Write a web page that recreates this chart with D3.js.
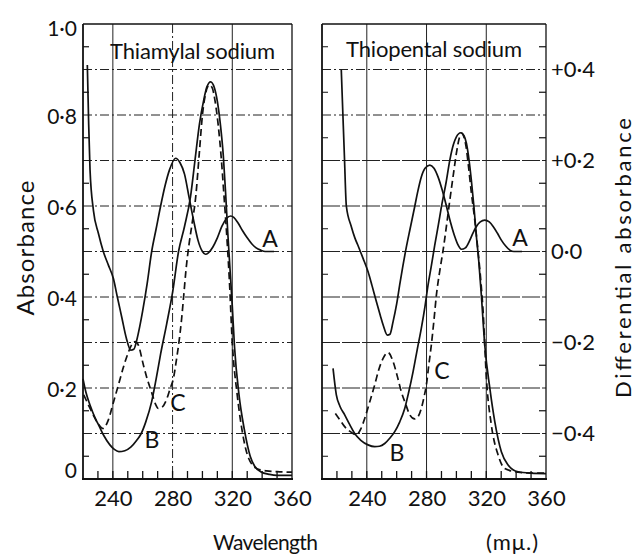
<!DOCTYPE html>
<html>
<head>
<meta charset="utf-8">
<script src="https://cdn.jsdelivr.net/npm/d3@7"></script>
<style>
  body { margin: 0; background: #fff; }
  text { font-family: Lato, "Open Sans", sans-serif; fill: #111; }
</style>
</head>
<body>
<div id="chart"></div>
<script>
// ---- data (wavelength in mμ, absorbance) ----
var thiamylalA_nm  = [222.9, 223.8, 224.7, 227, 230.3, 233.6, 237, 240.4, 243, 246, 249, 252, 254, 256, 258, 260, 263, 266, 269, 272, 275, 278, 282, 285, 288, 291, 294, 297, 300, 302, 304, 307, 310, 313, 316, 319, 321, 324, 327, 330, 333, 336, 339, 342, 345, 348];
var thiamylalA_abs = [0.91, 0.78, 0.68, 0.59, 0.54, 0.50, 0.47, 0.44, 0.40, 0.355, 0.31, 0.283, 0.285, 0.305, 0.335, 0.37, 0.43, 0.50, 0.55, 0.60, 0.645, 0.68, 0.705, 0.695, 0.67, 0.62, 0.57, 0.525, 0.50, 0.494, 0.497, 0.51, 0.53, 0.555, 0.572, 0.578, 0.575, 0.562, 0.545, 0.53, 0.517, 0.508, 0.503, 0.50, 0.50, 0.50];

var thiamylalB_nm  = [220, 222, 225, 228, 231, 234, 238, 241, 244, 248, 252, 256, 259, 262, 266, 269, 272, 276, 280, 284, 288, 292, 295, 298, 301, 303, 305.5, 308, 310, 312, 314, 315.5, 317, 318.5, 320, 321.5, 324.5, 328, 332, 335, 339, 345, 350, 360];
var thiamylalB_abs = [0.22, 0.19, 0.16, 0.135, 0.115, 0.095, 0.075, 0.065, 0.06, 0.062, 0.07, 0.085, 0.10, 0.125, 0.17, 0.22, 0.275, 0.34, 0.41, 0.50, 0.555, 0.62, 0.70, 0.78, 0.835, 0.862, 0.873, 0.86, 0.83, 0.78, 0.71, 0.63, 0.54, 0.46, 0.38, 0.29, 0.185, 0.11, 0.05, 0.028, 0.016, 0.01, 0.008, 0.008];

var thiamylalC_nm  = [220.5, 224, 227, 230.5, 233.5, 237, 240.5, 244, 247, 250, 253, 255, 257, 260.5, 263, 266, 268.5, 270.5, 273, 276, 278.5, 280.5, 282.5, 284, 286, 287.5, 289, 291, 293, 295.5, 298, 300, 302, 304.5, 306.5, 308.5, 310.5, 312.5, 314.5, 316, 318, 320, 323.3, 326.7, 331, 337, 343, 350, 360];
var thiamylalC_abs = [0.185, 0.16, 0.14, 0.12, 0.111, 0.13, 0.17, 0.21, 0.245, 0.275, 0.297, 0.302, 0.295, 0.25, 0.22, 0.19, 0.165, 0.155, 0.158, 0.175, 0.20, 0.22, 0.26, 0.294, 0.35, 0.404, 0.46, 0.515, 0.56, 0.62, 0.72, 0.80, 0.845, 0.866, 0.86, 0.83, 0.78, 0.71, 0.62, 0.55, 0.44, 0.30, 0.185, 0.104, 0.045, 0.022, 0.018, 0.016, 0.015];

var thiopentalA_nm  = [222.9, 224, 225, 226.3, 229.6, 232, 234.5, 237.5, 240.8, 243.5, 246.4, 249, 251, 253.8, 255.5, 257.6, 260, 262, 264, 266.5, 269, 272.1, 274, 276.5, 279, 282.2, 285, 287.7, 290.5, 293.3, 296, 298.9, 301, 303.3, 306, 309, 311, 313.4, 316, 319, 322, 324.6, 327.5, 330.1, 333, 335.8, 338.5, 341.3, 344];
var thiopentalA_abs = [0.90, 0.80, 0.71, 0.60, 0.555, 0.53, 0.51, 0.485, 0.456, 0.425, 0.39, 0.36, 0.338, 0.316, 0.318, 0.346, 0.385, 0.426, 0.465, 0.51, 0.55, 0.599, 0.63, 0.664, 0.683, 0.69, 0.683, 0.664, 0.635, 0.60, 0.565, 0.533, 0.515, 0.505, 0.508, 0.525, 0.54, 0.555, 0.565, 0.569, 0.565, 0.555, 0.54, 0.525, 0.512, 0.503, 0.5, 0.5, 0.5];

var thiopentalB_nm  = [217.4, 219.6, 222, 225.2, 228.5, 231.9, 236, 240.8, 245.3, 248.5, 252, 255.5, 258.7, 262, 265.4, 268, 271, 273.8, 276.5, 279, 281, 283.3, 285.5, 288, 290, 293, 295.6, 298, 300, 302.9, 305, 306.7, 308.5, 310, 311.7, 313.4, 315, 316.7, 319, 322.4, 325.7, 330.1, 334.6, 341.3, 350, 360];
var thiopentalB_abs = [0.243, 0.185, 0.16, 0.141, 0.12, 0.10, 0.085, 0.075, 0.071, 0.072, 0.078, 0.09, 0.104, 0.125, 0.155, 0.19, 0.236, 0.285, 0.331, 0.38, 0.426, 0.47, 0.514, 0.56, 0.599, 0.65, 0.701, 0.735, 0.752, 0.761, 0.755, 0.738, 0.70, 0.657, 0.60, 0.533, 0.478, 0.404, 0.294, 0.199, 0.126, 0.06, 0.031, 0.016, 0.013, 0.012];

var thiopentalC_nm  = [218.9, 222, 225.2, 229, 233, 236, 238.6, 242, 245.3, 248, 250.9, 254.2, 257.6, 260.5, 263.1, 266, 268.8, 272.1, 274.5, 276.5, 278.3, 279.9, 281.5, 283.2, 285, 286.6, 289, 291.1, 293.5, 295.6, 298, 300, 302, 303.4, 305, 306.5, 308, 310, 312.3, 314.5, 316.5, 317.9, 320.1, 323.4, 327.9, 332.4, 341.3, 350, 360];
var thiopentalC_abs = [0.144, 0.13, 0.115, 0.104, 0.097, 0.11, 0.133, 0.17, 0.207, 0.24, 0.265, 0.278, 0.258, 0.225, 0.192, 0.165, 0.141, 0.132, 0.138, 0.155, 0.18, 0.207, 0.25, 0.294, 0.35, 0.404, 0.46, 0.503, 0.56, 0.613, 0.67, 0.716, 0.75, 0.76, 0.752, 0.73, 0.69, 0.63, 0.569, 0.50, 0.43, 0.368, 0.221, 0.119, 0.053, 0.023, 0.015, 0.013, 0.013];

var xTickLabels = [240, 280, 320, 360];
var absTicks = [0, 0.2, 0.4, 0.6, 0.8, 1.0];
var diffTicks = [-0.4, -0.2, 0, 0.2, 0.4];

var width = 634,
    height = 556,
    plotTop = 24,
    plotBottom = 479;

var xL = d3.scaleLinear().domain([220, 360]).range([83, 292]);
var xR = d3.scaleLinear().domain([210, 360]).range([322, 546]);
var y = d3.scaleLinear().domain([0, 1]).range([plotBottom, plotTop]);
var yDiff = d3.scaleLinear().domain([-0.5, 0.5]).range([plotBottom, plotTop]);

var svg = d3.select("#chart").append("svg")
    .attr("width", width)
    .attr("height", height);

function dot(v) { return d3.format(".1f")(v).replace(".", "\u00b7"); }

function panel(x, title, titleX, titleY, titleLen, curves, letters, isRight) {
    var g = svg.append("g");
    var x0 = x.range()[0], x1 = x.range()[1];

    // horizontal grid every 0.1
    g.selectAll(".hgrid")
        .data(d3.range(1, 10).map(function (i) { return i / 10; }))
        .enter().append("line")
        .attr("x1", x0).attr("x2", x1)
        .attr("y1", function (d) { return y(d); })
        .attr("y2", function (d) { return y(d); })
        .attr("stroke", "#222")
        .attr("stroke-width", 1)
        .attr("stroke-dasharray", function (d) {
            return (isRight && d < 0.75) ? "18,2" : "9,3,2,3";
        });

    // vertical grid
    g.selectAll(".vgrid")
        .data([240, 280, 320])
        .enter().append("line")
        .attr("x1", function (d) { return x(d); })
        .attr("x2", function (d) { return x(d); })
        .attr("y1", plotTop).attr("y2", plotBottom)
        .attr("stroke", "#222")
        .attr("stroke-width", 1)
        .attr("stroke-dasharray", function (d) {
            return (!isRight && d == 280) ? "9,3,2,3" : null;
        });

    // minor ticks on the bottom axis
    g.selectAll(".xminor")
        .data(d3.range(x.domain()[0] + 10, 360, 10))
        .enter().append("line")
        .attr("x1", function (d) { return x(d); })
        .attr("x2", function (d) { return x(d); })
        .attr("y1", plotBottom).attr("y2", plotBottom - 8)
        .attr("stroke", "#111").attr("stroke-width", 1.3);

    // minor ticks on the side axes (0.05, 0.15, ...)
    var ym = d3.range(0, 10).map(function (i) { return i / 10 + 0.05; });
    g.selectAll(".yminorL")
        .data(ym)
        .enter().append("line")
        .attr("x1", x0).attr("x2", x0 + 6)
        .attr("y1", function (d) { return y(d); })
        .attr("y2", function (d) { return y(d); })
        .attr("stroke", "#111").attr("stroke-width", isRight ? 1 : 1.2);
    if (isRight) {
        g.selectAll(".yminorR")
            .data(ym)
            .enter().append("line")
            .attr("x1", x1).attr("x2", x1 - 7)
            .attr("y1", function (d) { return y(d); })
            .attr("y2", function (d) { return y(d); })
            .attr("stroke", "#111").attr("stroke-width", 1.2);
    }

    // frame
    g.append("line").attr("x1", x0).attr("x2", x1).attr("y1", plotTop).attr("y2", plotTop)
        .attr("stroke", "#111").attr("stroke-width", 1.3);
    g.append("line").attr("x1", x1).attr("x2", x1).attr("y1", plotTop).attr("y2", plotBottom)
        .attr("stroke", "#111").attr("stroke-width", 1.3);
    g.append("line").attr("x1", x0).attr("x2", x0).attr("y1", plotTop).attr("y2", plotBottom)
        .attr("stroke", "#111").attr("stroke-width", 1.8);
    g.append("line").attr("x1", x0 - 1).attr("x2", x1 + 1).attr("y1", plotBottom).attr("y2", plotBottom)
        .attr("stroke", "#111").attr("stroke-width", 2.2);

    // title
    g.append("text")
        .attr("x", titleX).attr("y", titleY)
        .attr("font-size", 22)
        .attr("textLength", titleLen)
        .attr("lengthAdjust", "spacing")
        .text(title);

    // x axis labels
    var ax = g.append("g")
        .attr("transform", "translate(0," + plotBottom + ")")
        .call(d3.axisBottom(x).tickValues(xTickLabels).tickSize(0).tickPadding(11)
            .tickFormat(d3.format("d")));
    ax.select(".domain").remove();
    ax.selectAll("text").attr("font-size", 22).attr("font-family", "Lato, sans-serif").attr("fill", "#111");

    // curves
    var line = d3.line()
        .x(function (d) { return x(d[0]); })
        .y(function (d) { return y(d[1]); })
        .curve(d3.curveMonotoneX);

    g.selectAll(".curve")
        .data(curves)
        .enter().append("path")
        .attr("d", function (c) { return line(d3.zip(c.nm, c.abs)); })
        .attr("fill", "none")
        .attr("stroke", "#111")
        .attr("stroke-width", 1.7)
        .attr("stroke-dasharray", function (c) { return c.dashed ? "7,4" : null; });

    g.selectAll(".letter")
        .data(letters)
        .enter().append("text")
        .attr("x", function (d) { return d.x; })
        .attr("y", function (d) { return d.y; })
        .attr("text-anchor", "middle")
        .attr("dominant-baseline", "central")
        .attr("font-size", 23)
        .text(function (d) { return d.t; });

    return g;
}

panel(xL, "Thiamylal sodium", 110, 59, 165, [
    { nm: thiamylalA_nm, abs: thiamylalA_abs },
    { nm: thiamylalB_nm, abs: thiamylalB_abs },
    { nm: thiamylalC_nm, abs: thiamylalC_abs, dashed: true }
], [
    { t: "A", x: 270, y: 238 },
    { t: "B", x: 152, y: 439 },
    { t: "C", x: 178, y: 402 }
], false);

panel(xR, "Thiopental sodium", 346, 57, 176, [
    { nm: thiopentalA_nm, abs: thiopentalA_abs },
    { nm: thiopentalB_nm, abs: thiopentalB_abs },
    { nm: thiopentalC_nm, abs: thiopentalC_abs, dashed: true }
], [
    { t: "A", x: 520, y: 237 },
    { t: "B", x: 397, y: 452 },
    { t: "C", x: 442, y: 370 }
], true);

// left absorbance axis labels
var ayl = svg.append("g")
    .attr("transform", "translate(83,0)")
    .call(d3.axisLeft(y).tickValues(absTicks).tickSize(0).tickPadding(6)
        .tickFormat(function (d) { return d === 0 ? "0" : dot(d); }));
ayl.select(".domain").remove();
ayl.selectAll("text")
    .attr("font-size", 21).attr("font-family", "Lato, sans-serif").attr("fill", "#111")
    .attr("transform", function (d) {
        var off = d === 0 ? -8 : (d === 1 ? 5 : 2);
        return "translate(0," + off + ")";
    });

// right differential axis labels
var ayr = svg.append("g")
    .attr("transform", "translate(546,0)")
    .call(d3.axisRight(yDiff).tickValues(diffTicks).tickSize(0).tickPadding(5)
        .tickFormat(function (d) {
            if (d === 0) return "0\u00b70";
            return (d > 0 ? "+" : "\u2212") + dot(Math.abs(d));
        }));
ayr.select(".domain").remove();
ayr.selectAll("text").attr("font-size", 22).attr("font-family", "Lato, sans-serif").attr("fill", "#111");

// axis titles
svg.append("text")
    .attr("transform", "translate(24,248) rotate(-90)")
    .attr("text-anchor", "middle")
    .attr("dominant-baseline", "central")
    .attr("font-size", 24)
    .attr("textLength", 135)
    .attr("lengthAdjust", "spacing")
    .text("Absorbance");

svg.append("text")
    .attr("transform", "translate(622,258) rotate(-90)")
    .attr("text-anchor", "middle")
    .attr("dominant-baseline", "central")
    .attr("font-size", 22)
    .attr("textLength", 280)
    .attr("lengthAdjust", "spacing")
    .text("Differential absorbance");

svg.append("text")
    .attr("x", 213).attr("y", 550)
    .attr("font-size", 21)
    .attr("textLength", 105)
    .attr("lengthAdjust", "spacing")
    .text("Wavelength");

svg.append("text")
    .attr("x", 486).attr("y", 550)
    .attr("font-size", 22)
    .attr("textLength", 52)
    .attr("lengthAdjust", "spacing")
    .text("(m\u03bc.)");
</script>
</body>
</html>
